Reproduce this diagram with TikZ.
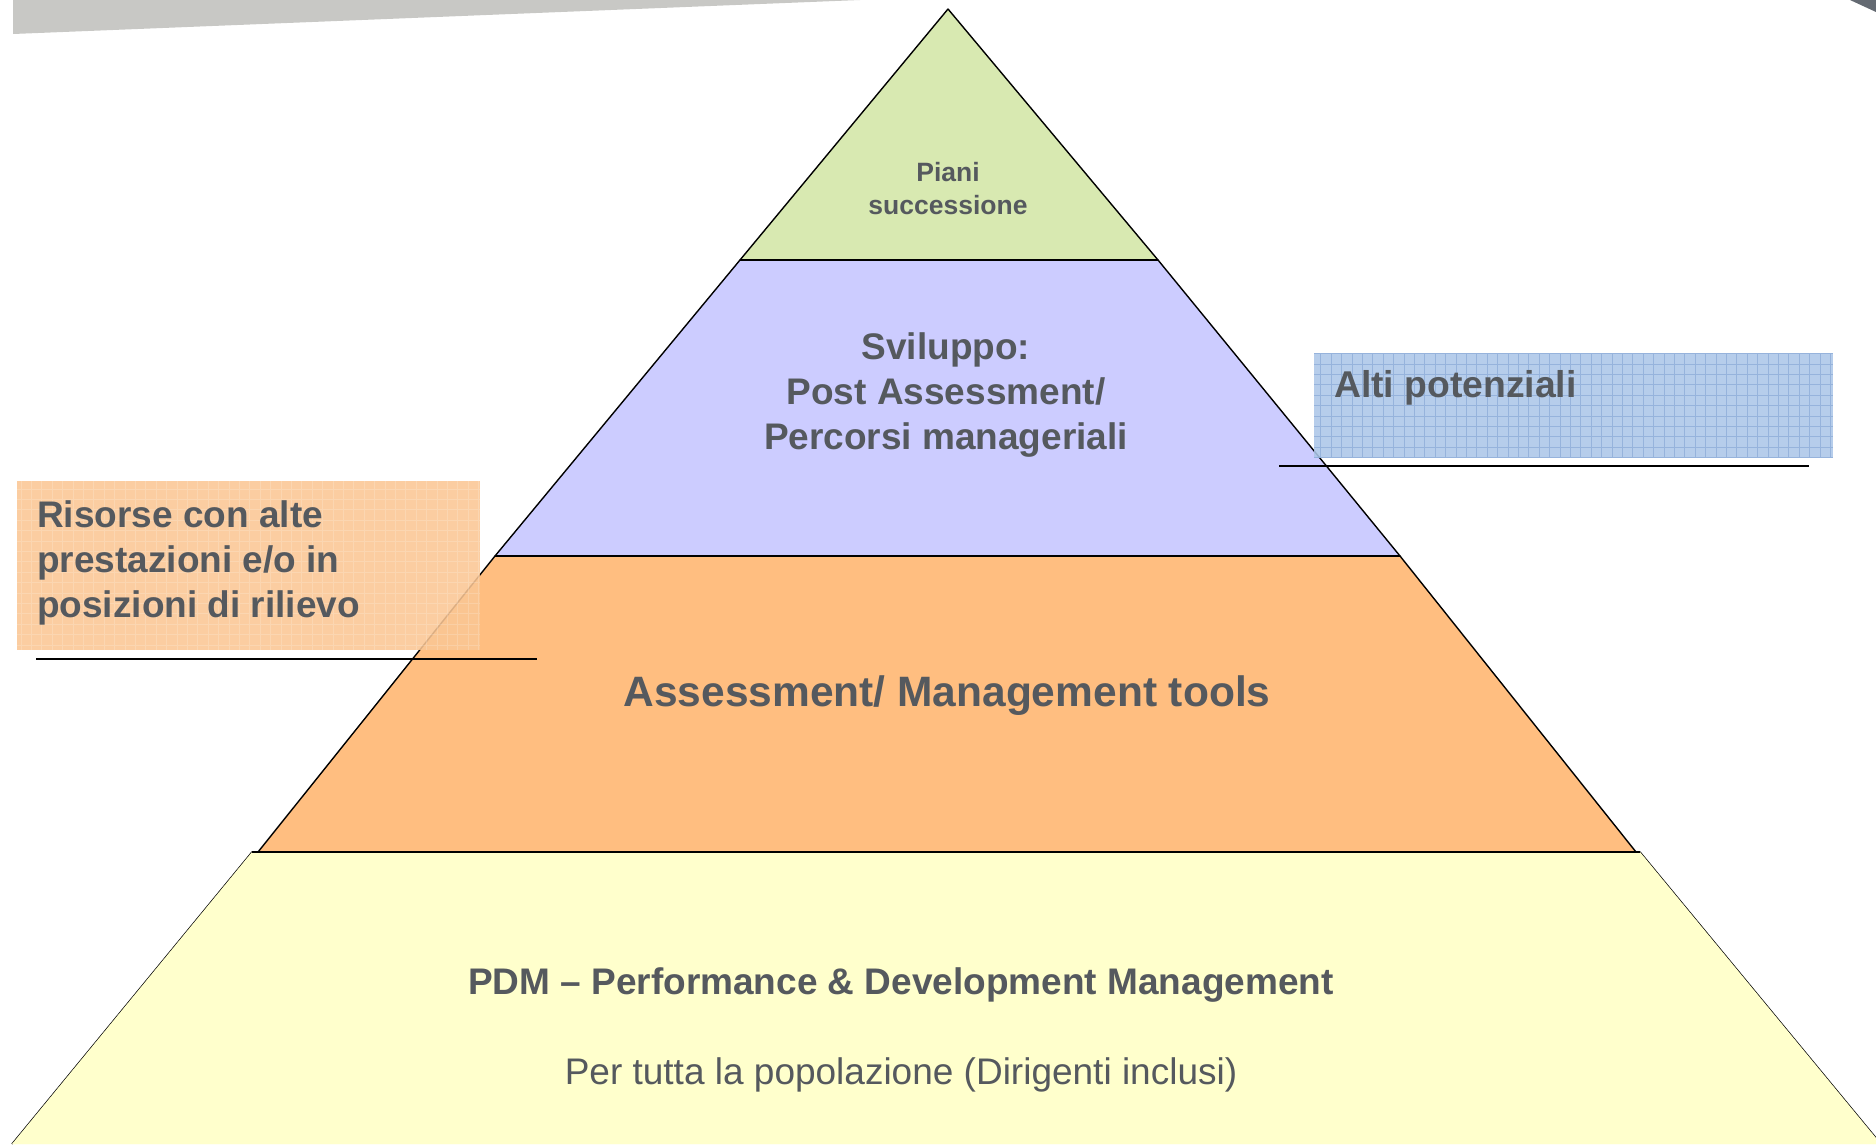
\documentclass[tikz,border=0pt]{standalone}
\usepackage{fontspec}
\setmainfont{Liberation Sans}
\usetikzlibrary{positioning}

\definecolor{textgray}{RGB}{85,89,94}
\definecolor{bargray}{RGB}{200,200,197}
\definecolor{cornergray}{RGB}{100,106,114}
\definecolor{piani}{RGB}{216,233,177}
\definecolor{sviluppo}{RGB}{204,204,255}
\definecolor{assess}{RGB}{255,190,128}
\definecolor{pdm}{RGB}{255,255,204}
\definecolor{altibox}{RGB}{172,198,232}
\definecolor{altigrid}{RGB}{110,150,205}
\definecolor{risorsebox}{RGB}{250,198,148}

\begin{document}
\begin{tikzpicture}[x=1pt,y=1pt,yscale=-1,xscale=1,
  layer/.style={draw=black,line width=1.4pt,line join=round},
  divider/.style={draw=black,line width=2.4pt},
  lbl/.style={text=textgray,inner sep=0pt,align=center,font=\bfseries},
  sidebox/.style={draw opacity=0,fill opacity=0.88},
  underline/.style={draw=black,line width=2pt}]
\useasboundingbox (0,0) rectangle (1876,1144);

%Shape: Polygon (grey band at the top)
\fill [bargray] (13,0) -- (13,34) -- (860,0) -- cycle ;
%Shape: Polygon (corner at the top right)
\fill [cornergray] (1850,0) -- (1876,0) -- (1876,12) -- cycle ;

% pyramid corners
\coordinate (apex) at (948,9);
\coordinate (gl) at (740,260);  \coordinate (gr) at (1158,260);
\coordinate (pl) at (495,556);  \coordinate (pr) at (1400,556);
\coordinate (ol) at (258,852);  \coordinate (or) at (1636,852);
\coordinate (yl) at (252,852);  \coordinate (yr) at (1640,852);
\coordinate (bl) at (12,1144);  \coordinate (br) at (1881,1144);

%Shape: Polygon (PDM)
\filldraw [layer,fill=pdm] (bl) -- (yl) -- (yr) -- (br) ;
\fill [pdm] (bl) -- (yl) -- (yr) -- (br) -- cycle ;
%Shape: Polygon (Assessment)
\filldraw [layer,fill=assess] (pl) -- (pr) -- (or) -- (ol) -- cycle ;
%Shape: Polygon (Sviluppo)
\filldraw [layer,fill=sviluppo] (gl) -- (gr) -- (pr) -- (pl) -- cycle ;
%Shape: Triangle (Piani)
\filldraw [layer,fill=piani] (apex) -- (gr) -- (gl) -- cycle ;
%Straight Lines (dividers)
\draw [divider] (gl) -- (gr) ;
\draw [divider] (pl) -- (pr) ;
\draw [divider] (yl) -- (yr) ;

%Shape: Rectangle (Alti potenziali)
\fill [sidebox,fill=altibox] (1314,353) rectangle (1833,458) ;
\draw [altigrid,line width=0.8pt,draw opacity=0.45,step=10.4pt] (1314,353) grid (1833,458) ;
%Shape: Rectangle (Risorse)
\fill [sidebox,fill=risorsebox] (17,481) rectangle (480,650) ;
\draw [white,line width=0.6pt,draw opacity=0.18,step=10.4pt] (17,481) grid (480,650) ;

% underline coordinates
\coordinate (altiA) at (1279,466);  \coordinate (altiB) at (1809,466);
\coordinate (risA) at (36,659);     \coordinate (risB) at (537,659);
%Straight Lines
\draw [underline] (altiA) -- (altiB) ;
%Straight Lines
\draw [underline] (risA) -- (risB) ;

% Text Node
\node [lbl,font=\bfseries\fontsize{26.5}{33}\selectfont] (piani) at (948,189) {Piani\\successione};
% Text Node
\node [lbl,font=\bfseries\fontsize{37}{45}\selectfont] (sviluppo) at (946,395) {Sviluppo:\\Post Assessment/\\Percorsi manageriali};
% Text Node
\node [lbl,font=\bfseries\fontsize{42.5}{49}\selectfont] (assess) at (947,696) {Assessment/ Management tools};
% Text Node
\node [lbl,font=\bfseries\fontsize{37}{44}\selectfont] (pdm) at (901,985) {PDM -- Performance \& Development Management};
% Text Node
\node [lbl,font=\fontsize{37}{44}\selectfont] (tutti) at (901,1075) {Per tutta la popolazione (Dirigenti inclusi)};
% Text Node
\node [lbl,anchor=base west,font=\bfseries\fontsize{37.3}{44}\selectfont] (alti) at (1334,397) {Alti potenziali};
% Text Node
\node [lbl,anchor=north west,align=left,font=\bfseries\fontsize{37}{45}\selectfont] (risorse) at (37,500) {Risorse con alte\\prestazioni e/o in\\posizioni di rilievo};

\end{tikzpicture}
\end{document}
